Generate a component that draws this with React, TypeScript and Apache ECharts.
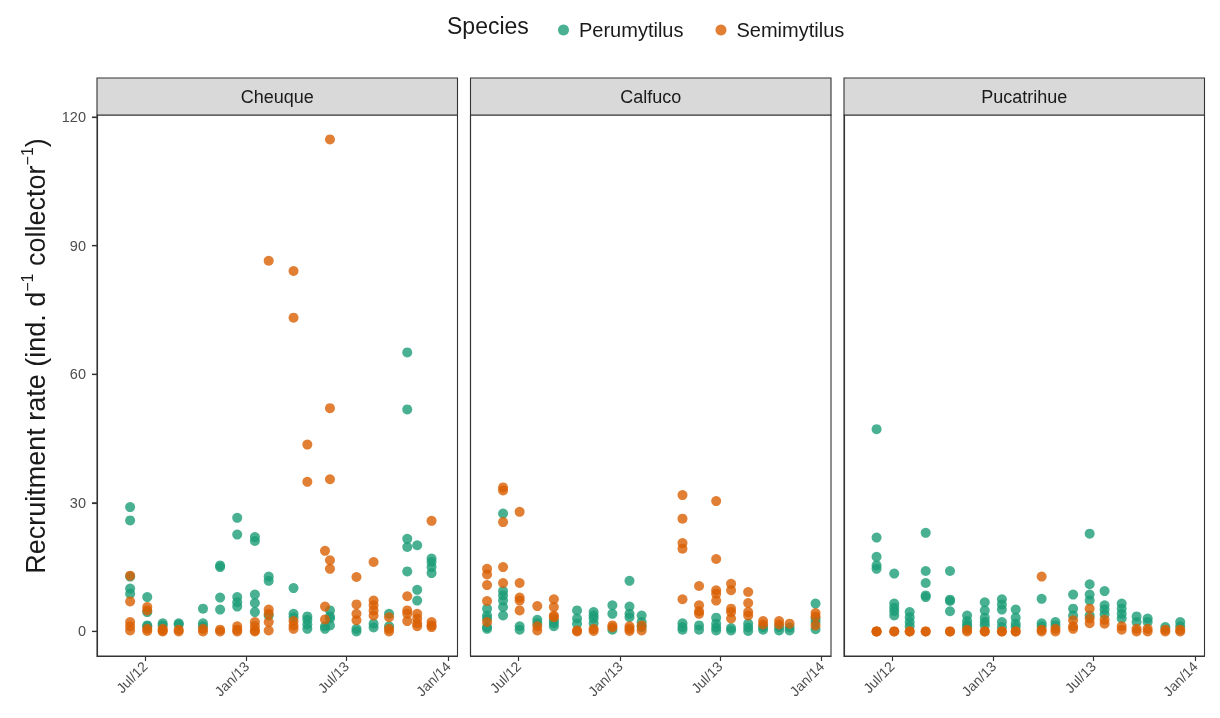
import React, { useEffect, useRef } from "react";
import * as echarts from "echarts";

const sites = ["Cheuque", "Calfuco", "Pucatrihue"];
const speciesNames = ["Perumytilus", "Semimytilus"];
const speciesColors = ["#1b9e77", "#d95f02"];
const tickDates = ["2012-07-01", "2013-01-01", "2013-07-01", "2014-01-01"];
const yTicks = [0, 30, 60, 90, 120];
const xRange = ["2012-04-05", "2014-01-18"];
const yRange = [-5.74, 120.5];

const cheuqueDates = ["2012-06-04", "2012-07-05", "2012-08-02", "2012-08-31", "2012-10-14", "2012-11-14", "2012-12-15", "2013-01-16", "2013-02-10", "2013-03-27", "2013-04-21", "2013-05-23", "2013-06-01", "2013-07-19", "2013-08-19", "2013-09-16", "2013-10-19", "2013-11-06", "2013-12-02"];
const cheuquePerumytilus = [
  [29.0, 25.9, 12.8, 10.0, 8.8],
  [8.0, 4.5, 1.4, 1.2],
  [1.9, 1.4],
  [1.9, 1.6],
  [5.3, 1.9, 1.2],
  [15.4, 15.0, 7.9, 5.1],
  [26.5, 22.6, 8.0, 6.8, 5.8],
  [22.0, 21.1, 8.6, 6.6, 4.5],
  [12.8, 11.8, 3.7],
  [10.1, 4.1, 3.3],
  [3.5, 2.7, 1.6, 0.6],
  [1.2, 0.6],
  [4.9, 3.5, 3.0, 1.4],
  [0.6, 0],
  [1.8, 0.9],
  [4.1, 1.2],
  [65.1, 51.8, 21.6, 19.7, 14.0],
  [20.1, 9.7, 7.2],
  [17.0, 16.2, 15.0, 13.6],
];
const cheuqueSemimytilus = [
  [13.0, 7.0, 2.2, 1.2, 0.2],
  [5.7, 4.9, 0.6, 0.1],
  [0.6, 0.2, 0],
  [0.4, 0],
  [0.6, 0],
  [0.4, 0],
  [1.2, 0.4, 0],
  [2.2, 1.2, 0.2, 0],
  [86.5, 5.1, 4.1, 2.2, 0.2],
  [84.1, 73.2, 2.4, 1.4, 0.6],
  [43.6, 34.9],
  [18.8, 5.8, 2.8],
  [114.8, 52.1, 35.5, 16.6, 14.6],
  [12.7, 6.3, 4.1, 2.6],
  [16.2, 7.2, 6.1, 4.9, 3.7],
  [3.3, 0.6, 0],
  [8.2, 4.9, 4.1, 2.4],
  [4.1, 3.0, 1.9, 1.2],
  [25.8, 2.2, 1.4, 1.0],
];

const calfucoDates = ["2012-05-05", "2012-06-03", "2012-07-03", "2012-08-04", "2012-09-03", "2012-10-15", "2012-11-14", "2012-12-18", "2013-01-18", "2013-02-09", "2013-04-24", "2013-05-24", "2013-06-24", "2013-07-21", "2013-08-21", "2013-09-17", "2013-10-16", "2013-11-04", "2013-12-21"];
const calfucoPerumytilus = [
  [5.3, 3.7, 3.0, 1.0, 0.6],
  [27.5, 9.4, 8.4, 7.2, 5.7, 3.7],
  [1.2, 0.4],
  [2.7, 1.9],
  [2.6, 1.9, 1.2],
  [4.9, 3.0, 1.8],
  [4.5, 3.7, 3.0, 1.9],
  [6.1, 4.1, 0.4],
  [11.8, 5.8, 4.1, 3.3],
  [3.7, 2.2, 1.0],
  [1.9, 1.0, 0.4],
  [1.4, 0.4],
  [3.2, 1.8, 0.9, 0.2],
  [0.8, 0.2],
  [1.8, 0.9, 0.1],
  [1.0, 0.4],
  [1.0, 0.2],
  [0.9, 0.2],
  [6.5, 3.0, 2.2, 0.5],
];
const calfucoSemimytilus = [
  [14.6, 13.3, 10.8, 7.1, 2.2],
  [33.6, 32.9, 25.5, 15.0, 11.3],
  [27.9, 11.3, 7.9, 7.2, 4.9],
  [5.9, 1.2, 0.2],
  [7.5, 5.7, 3.7, 3.3],
  [0.2, 0],
  [0.6, 0.1],
  [1.4, 0.9],
  [1.2, 0.6, 0.1],
  [1.4, 0.2],
  [31.8, 26.3, 20.6, 19.3, 7.5],
  [10.6, 6.1, 4.7, 4.1],
  [30.4, 16.9, 9.6, 8.8, 7.2],
  [11.1, 9.6, 5.3, 4.5, 3.0],
  [9.2, 6.6, 4.5, 3.7],
  [2.4, 1.6],
  [2.4, 1.6],
  [1.8],
  [4.3, 3.5, 1.4],
];

const pucatrihueDates = ["2012-06-03", "2012-07-05", "2012-08-02", "2012-08-31", "2012-10-14", "2012-11-14", "2012-12-16", "2013-01-16", "2013-02-10", "2013-03-29", "2013-04-23", "2013-05-25", "2013-06-24", "2013-07-21", "2013-08-21", "2013-09-17", "2013-10-07", "2013-11-08", "2013-12-05"];
const pucatrihuePerumytilus = [
  [47.2, 21.9, 17.4, 15.4, 14.6],
  [13.5, 6.5, 5.5, 4.7, 3.7],
  [4.5, 3.3, 2.2, 1.2],
  [23.0, 14.1, 11.3, 8.4, 8.0],
  [14.1, 7.4, 7.1, 4.7],
  [3.7, 2.4, 1.6, 1.0],
  [6.8, 4.9, 3.2, 2.2, 1.4],
  [7.5, 6.3, 5.1, 2.2, 1.0],
  [5.1, 3.2, 1.8, 1.0],
  [7.6, 1.9, 1.2],
  [2.2, 1.4],
  [8.6, 5.3, 3.7],
  [22.8, 11.0, 8.6, 7.2, 3.7],
  [9.4, 6.1, 5.1, 4.0],
  [6.5, 5.3, 4.1, 3.0],
  [3.5, 2.2],
  [3.0, 2.2],
  [1.0],
  [2.2, 1.2],
];
const pucatrihueSemimytilus = [
  [0, 0, 0],
  [0, 0],
  [0, 0],
  [0, 0],
  [0, 0],
  [0.4, 0],
  [0, 0],
  [0, 0],
  [0, 0],
  [12.8, 0.4, 0],
  [0.6, 0],
  [2.6, 1.2, 0.6],
  [5.3, 3.0, 1.9],
  [2.7, 1.8],
  [1.2, 0.4],
  [0.6, 0],
  [0.6, 0],
  [0.4, 0],
  [0.4, 0],
];

const siteData = [
  { dates: cheuqueDates, values: [cheuquePerumytilus, cheuqueSemimytilus] },
  { dates: calfucoDates, values: [calfucoPerumytilus, calfucoSemimytilus] },
  { dates: pucatrihueDates, values: [pucatrihuePerumytilus, pucatrihueSemimytilus] },
];

const parseDay = (s: string) => Date.parse(s + "T00:00:00Z");
const monthAbbr = ["Jan", "Feb", "Mar", "Apr", "May", "Jun", "Jul", "Aug", "Sep", "Oct", "Nov", "Dec"];
const fmtDate = (v: number) => {
  const d = new Date(v);
  return monthAbbr[d.getUTCMonth()] + "/" + String(d.getUTCFullYear()).slice(2);
};

const FONT = "'Liberation Sans', Arial, Helvetica, sans-serif";
const panelLefts = [97, 470.5, 844];
const panelWidth = 360.5;
const panelTop = 115;
const panelHeight = 541;
const stripTop = 78;

export default function App() {
  const ref = useRef<HTMLDivElement>(null);
  useEffect(() => {
    if (!ref.current) return;
    const chart = echarts.init(ref.current, undefined, { renderer: "svg" });
    const tickTs = tickDates.map(parseDay);

    const grid = panelLefts.map((l) => ({
      left: l,
      top: panelTop,
      width: panelWidth,
      height: panelHeight,
      show: true,
      borderColor: "#333333",
      borderWidth: 1.1,
      backgroundColor: "transparent",
    }));

    const xAxis = panelLefts.map((_, i) => ({
      type: "value",
      gridIndex: i,
      position: "bottom",
      min: parseDay(xRange[0]),
      max: parseDay(xRange[1]),
      axisLine: { show: true, onZero: false, lineStyle: { color: "#333333", width: 1.1 } },
      splitLine: { show: false },
      axisTick: { show: true, inside: false, customValues: tickTs, length: 5, lineStyle: { color: "#333333", width: 1.2 } },
      axisLabel: {
        show: true,
        customValues: tickTs,
        formatter: (v: number) => fmtDate(v),
        rotate: 45,
        fontSize: 14,
        color: "#4d4d4d",
        fontFamily: FONT,
        margin: 8,
      },
    }));

    const yAxis = panelLefts.map((_, i) => ({
      type: "value",
      gridIndex: i,
      position: "left",
      min: yRange[0],
      max: yRange[1],
      axisLine: { show: true, onZero: false, lineStyle: { color: "#333333", width: 1.1 } },
      splitLine: { show: false },
      axisTick: { show: i === 0, inside: false, customValues: yTicks, length: 5, lineStyle: { color: "#333333", width: 1.2 } },
      axisLabel: {
        show: i === 0,
        customValues: yTicks,
        fontSize: 14.5,
        color: "#4d4d4d",
        fontFamily: FONT,
        margin: 11,
      },
    }));

    const series: any[] = [];
    siteData.forEach((site, i) => {
      speciesNames.forEach((name, j) => {
        const data: number[][] = [];
        site.dates.forEach((d, k) => {
          site.values[j][k].forEach((v) => data.push([parseDay(d), v]));
        });
        series.push({
          type: "scatter",
          name,
          xAxisIndex: i,
          yAxisIndex: i,
          data,
          symbol: "circle",
          symbolSize: 10,
          itemStyle: { color: speciesColors[j], opacity: 0.8 },
          emphasis: { disabled: true },
        });
      });
    });

    const graphic: any[] = [];
    sites.forEach((s, i) => {
      graphic.push({
        id: "strip" + i,
        type: "rect",
        shape: { x: panelLefts[i], y: stripTop, width: panelWidth, height: panelTop - stripTop },
        style: { fill: "#d9d9d9", stroke: "#333333", lineWidth: 1.1 },
        z: 10,
      });
      graphic.push({
        id: "stripText" + i,
        type: "text",
        x: panelLefts[i] + panelWidth / 2,
        y: (stripTop + panelTop) / 2,
        style: {
          text: s,
          fontSize: 18,
          fontFamily: FONT,
          fill: "#1a1a1a",
          align: "center",
          verticalAlign: "middle",
        },
        z: 11,
      });
    });
    graphic.push({
      id: "legendTitle",
      type: "text",
      x: 447,
      y: 26,
      style: {
        text: "Species",
        fontSize: 23,
        fontFamily: FONT,
        fill: "#1a1a1a",
        align: "left",
        verticalAlign: "middle",
      },
    });
    graphic.push({
      id: "yTitle",
      type: "text",
      x: 36,
      y: 356,
      rotation: Math.PI / 2,
      style: {
        text: "Recruitment rate (ind. d{sup|−1} collector{sup|−1})",
        fontSize: 27,
        fontFamily: FONT,
        fill: "#1a1a1a",
        align: "center",
        verticalAlign: "middle",
        lineHeight: 34,
        rich: {
          sup: { fontSize: 16, fontFamily: FONT, fill: "#1a1a1a", verticalAlign: "top", lineHeight: 16 },
        },
      },
    });

    chart.setOption({
      animation: false,
      textStyle: { fontFamily: FONT },
      grid,
      xAxis,
      yAxis,
      series,
      legend: {
        data: speciesNames,
        left: 553,
        top: 15,
        icon: "circle",
        itemWidth: 11,
        itemHeight: 11,
        itemGap: 32,
        selectedMode: false,
        textStyle: { fontSize: 20, color: "#1a1a1a", fontFamily: FONT, padding: [0, 0, 0, 5] },
      },
      graphic,
    });

    // y-axis tick marks positioned through the axis scale
    const tickMarks = yTicks.map((v, k) => {
      const py = chart.convertToPixel({ yAxisIndex: 0 }, v) as number;
      return {
        id: "ytick" + k,
        type: "line",
        shape: { x1: panelLefts[0] - 5, y1: py, x2: panelLefts[0], y2: py },
        style: { stroke: "#333333", lineWidth: 1.2 },
        z: 12,
      };
    });
    chart.setOption({ graphic: [...graphic, ...tickMarks] });

    return () => chart.dispose();
  }, []);
  return <div ref={ref} style={{ position: "fixed", left: 0, top: 0, width: 1220, height: 718 }} />;
}
